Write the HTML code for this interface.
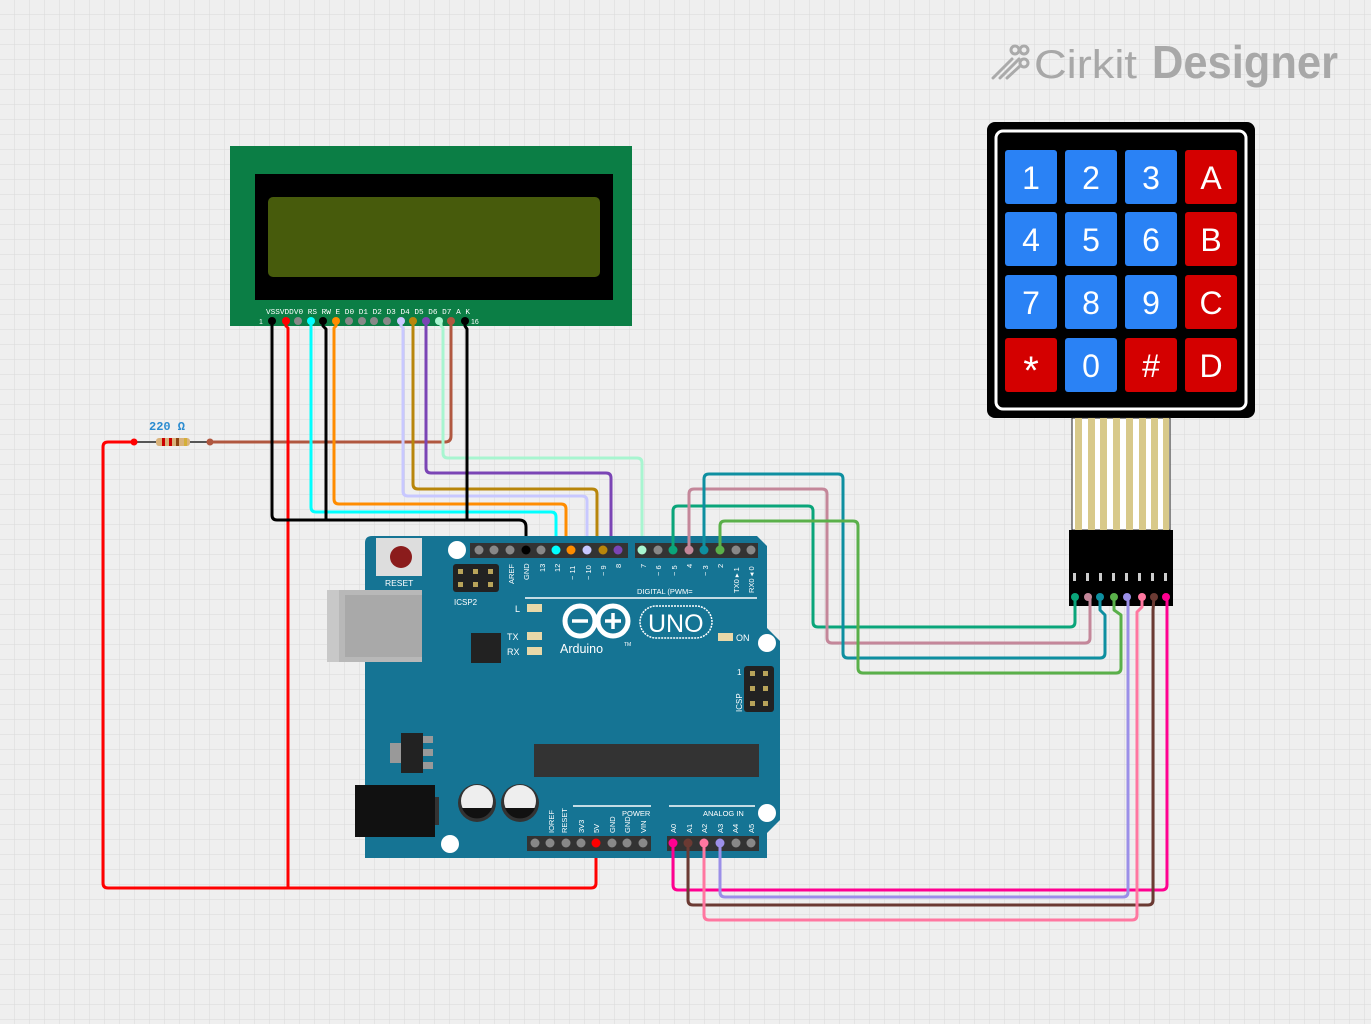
<!DOCTYPE html>
<html><head><meta charset="utf-8"><style>
html,body{margin:0;padding:0;background:#efefef}
svg{display:block}
text{font-family:"Liberation Sans",sans-serif}
text.mono{font-family:"Liberation Mono",monospace}
</style></head><body>
<svg width="1371" height="1024" viewBox="0 0 1371 1024" xmlns="http://www.w3.org/2000/svg">
<defs>
<pattern id="g" width="15" height="15" patternUnits="userSpaceOnUse">
<path d="M15 0V15M0 15H15" stroke="#dadada" stroke-width="1" fill="none"/>
</pattern>
</defs>
<rect width="1371" height="1024" fill="#efefef"/>
<rect width="1371" height="1024" fill="url(#g)"/>

<!-- logo -->
<g stroke="#aaa" stroke-width="3" fill="none" stroke-linecap="round">
<path d="M993 78L1012 59M1000 78L1019 59M1007 78L1020 66"/>
<circle cx="1015" cy="50" r="4"/><circle cx="1024" cy="50" r="4"/><circle cx="1024" cy="63" r="4"/>
</g>
<text x="1034" y="78" font-size="40" fill="#a8a8a8" textLength="103" lengthAdjust="spacingAndGlyphs">Cirkit</text>
<text x="1152" y="78" font-size="46" font-weight="bold" fill="#a8a8a8" textLength="186" lengthAdjust="spacingAndGlyphs">Designer</text>

<!-- LCD -->
<rect x="230" y="146" width="402" height="180" fill="#0b7e45"/>
<rect x="255" y="174" width="358" height="126" fill="#000"/>
<rect x="268" y="197" width="332" height="80" rx="5" fill="#475b0c"/>
<g font-size="7" fill="#fff">
<text class="mono" x="266" y="314" textLength="204" lengthAdjust="spacingAndGlyphs">VSSVDDV0 RS RW  E D0 D1 D2 D3 D4 D5 D6 D7  A  K</text>
<text x="259" y="324">1</text><text x="471" y="324">16</text>
</g>
<g fill="#888">
<circle cx="298" cy="321" r="4"/><circle cx="349" cy="321" r="4"/><circle cx="362" cy="321" r="4"/><circle cx="374" cy="321" r="4"/><circle cx="387" cy="321" r="4"/>
</g>

<!-- wires LCD -> arduino -->
<g fill="none" stroke-width="3" stroke-linejoin="round">
<path d="M451 321V436Q451 442 445 442H210" stroke="#b0573f"/>
<path d="M134 442H108Q103 442 103 447V883Q103 888 108 888H591Q596 888 596 883V843" stroke="#f00"/>
<path d="M286 321V326L288 328V888" stroke="#f00"/>
<path d="M441 321V326L443 328V453Q443 458 448 458H637Q642 458 642 463V550" stroke="#a8f5d0"/>
<path d="M426 321V468Q426 473 431 473H606Q611 473 611 478V545L618 550" stroke="#7b45b5"/>
<path d="M413 321V484Q413 489 418 489H592Q597 489 597 494V545L603 550" stroke="#b8860b"/>
<path d="M401 321V326L403 328V491Q403 496 408 496H582Q587 496 587 501V550" stroke="#c8c8ff"/>
<path d="M336 321V326L334 328V499Q334 504 339 504H561Q566 504 566 509V545L571 550" stroke="#ff8c00"/>
<path d="M311 321V507Q311 512 316 512H551Q556 512 556 517V550" stroke="#0ff"/>
<path d="M272 321V515Q272 520 277 520H519Q526 520 526 527V550" stroke="#000"/>
<path d="M323 321V326L326 329V520" stroke="#000"/>
<path d="M465 321V326L467 329V520" stroke="#000"/>
</g>
<g>
<circle cx="272" cy="321" r="4" fill="#000"/><circle cx="286" cy="321" r="4" fill="#f00"/>
<circle cx="311" cy="321" r="4" fill="#0ff"/><circle cx="323" cy="321" r="4" fill="#000"/>
<circle cx="336" cy="321" r="4" fill="#ff8c00"/><circle cx="401" cy="321" r="4" fill="#c8c8ff"/>
<circle cx="413" cy="321" r="4" fill="#b8860b"/><circle cx="426" cy="321" r="4" fill="#7b45b5"/>
<circle cx="439" cy="321" r="4" fill="#a8f5d0"/><circle cx="451" cy="321" r="4" fill="#b0573f"/>
<circle cx="465" cy="321" r="4" fill="#000"/>
</g>

<!-- resistor -->
<text class="mono" x="149" y="430" font-size="12" font-weight="bold" fill="#2a8bd0">220 Ω</text>
<path d="M134 442H210" stroke="#555" stroke-width="2"/>
<rect x="156" y="438" width="34" height="8" rx="3" fill="#d9b27a"/>
<rect x="162" y="438" width="3" height="8" fill="#c00"/><rect x="169" y="438" width="3" height="8" fill="#c00"/><rect x="176" y="438" width="3" height="8" fill="#8b4513"/><rect x="184" y="438" width="3" height="8" fill="#d4af37"/>
<circle cx="134" cy="442" r="3.5" fill="#f00"/><circle cx="210" cy="442" r="3.5" fill="#b0573f"/>

<!-- Arduino -->
<path d="M372 536H757L767 546V628L780 641V820L767 833V858H365V543Q365 536 372 536Z" fill="#157494"/>
<rect x="327" y="590" width="95" height="72" fill="#b8b8b8"/>
<rect x="345" y="595" width="77" height="62" fill="#a9a9a9"/>
<rect x="327" y="590" width="12" height="72" fill="#c8c8c8"/>
<rect x="376" y="538" width="46" height="38" fill="#ddd"/>
<circle cx="401" cy="557" r="11" fill="#8b1c1c"/>
<text x="385" y="586" font-size="8.5" fill="#fff">RESET</text>
<circle cx="457" cy="550" r="9" fill="#fff"/>
<rect x="453" y="564" width="46" height="28" rx="3" fill="#222"/>
<g fill="#b9a45a"><rect x="458" y="569" width="5" height="5"/><rect x="473" y="569" width="5" height="5"/><rect x="488" y="569" width="5" height="5"/><rect x="458" y="582" width="5" height="5"/><rect x="473" y="582" width="5" height="5"/><rect x="488" y="582" width="5" height="5"/></g>
<text x="454" y="605" font-size="8" fill="#fff">ICSP2</text>

<rect x="470" y="543" width="158" height="15" fill="#333"/>
<rect x="635" y="543" width="123" height="15" fill="#333"/>
<g fill="#888">
<circle cx="479" cy="550" r="4.5"/><circle cx="494" cy="550" r="4.5"/><circle cx="510" cy="550" r="4.5"/><circle cx="541" cy="550" r="4.5"/>
<circle cx="658" cy="550" r="4.5"/><circle cx="736" cy="550" r="4.5"/><circle cx="751" cy="550" r="4.5"/>
</g>
<g font-size="7.5" fill="#fff">
<text transform="translate(514,584) rotate(-90)">AREF</text>
<text transform="translate(529,580) rotate(-90)">GND</text>
<text transform="translate(545,572) rotate(-90)">13</text>
<text transform="translate(560,572) rotate(-90)">12</text>
<text transform="translate(575,580) rotate(-90)">~ 11</text>
<text transform="translate(591,580) rotate(-90)">~ 10</text>
<text transform="translate(606,576) rotate(-90)">~ 9</text>
<text transform="translate(621,568) rotate(-90)">8</text>
<text transform="translate(646,568) rotate(-90)">7</text>
<text transform="translate(661,576) rotate(-90)">~ 6</text>
<text transform="translate(677,576) rotate(-90)">~ 5</text>
<text transform="translate(692,568) rotate(-90)">4</text>
<text transform="translate(708,576) rotate(-90)">~ 3</text>
<text transform="translate(723,568) rotate(-90)">2</text>
<text transform="translate(739,593) rotate(-90)">TX0 ▸ 1</text>
<text transform="translate(754,593) rotate(-90)">RX0 ◂ 0</text>
<text x="637" y="594">DIGITAL (PWM=</text>
</g>
<path d="M525 598H757" stroke="#fff" stroke-width="1.5"/>
<g fill="#e8d8a8"><rect x="527" y="604" width="15" height="8"/><rect x="527" y="632" width="15" height="8"/><rect x="527" y="647" width="15" height="8"/><rect x="718" y="633" width="15" height="8"/></g>
<g font-size="9" fill="#fff"><text x="515" y="612">L</text><text x="507" y="640">TX</text><text x="507" y="655">RX</text><text x="736" y="641">ON</text></g>
<rect x="471" y="633" width="30" height="30" fill="#222"/>
<g fill="none" stroke="#fff" stroke-width="5"><circle cx="580" cy="621" r="15"/><circle cx="613" cy="621" r="15"/></g>
<path d="M572 621H588M605 621H621M613 613V629" stroke="#fff" stroke-width="3.5"/>
<rect x="640" y="606" width="72" height="32" rx="16" fill="none" stroke="#fff" stroke-width="1.5" stroke-dasharray="2 1"/>
<text x="648" y="632" font-size="25" fill="#fff">UNO</text>
<text x="560" y="653" font-size="12.5" fill="#fff">Arduino</text>
<text x="624" y="646" font-size="5" fill="#fff">TM</text>
<circle cx="767" cy="643" r="9" fill="#fff"/>
<rect x="744" y="666" width="30" height="46" rx="3" fill="#222"/>
<g fill="#b9a45a"><rect x="750" y="671" width="5" height="5"/><rect x="763" y="671" width="5" height="5"/><rect x="750" y="686" width="5" height="5"/><rect x="763" y="686" width="5" height="5"/><rect x="750" y="701" width="5" height="5"/><rect x="763" y="701" width="5" height="5"/></g>
<text x="737" y="675" font-size="8" fill="#fff">1</text>
<text transform="translate(742,712) rotate(-90)" font-size="8" fill="#fff">ICSP</text>
<rect x="390" y="743" width="13" height="20" fill="#999"/>
<rect x="401" y="733" width="22" height="40" fill="#222"/>
<g fill="#999"><rect x="423" y="736" width="10" height="7"/><rect x="423" y="749" width="10" height="7"/><rect x="423" y="762" width="10" height="7"/></g>
<rect x="534" y="744" width="225" height="33" fill="#333"/>
<rect x="355" y="785" width="80" height="52" fill="#111"/>
<rect x="435" y="797" width="4" height="28" fill="#333"/>
<g><circle cx="477" cy="803" r="19" fill="#333"/><circle cx="477" cy="801" r="16" fill="#eee"/><path d="M462 808H492A16 16 0 0 1 462 808Z" fill="#111"/>
<circle cx="520" cy="803" r="19" fill="#333"/><circle cx="520" cy="801" r="16" fill="#eee"/><path d="M505 808H535A16 16 0 0 1 505 808Z" fill="#111"/></g>
<circle cx="450" cy="844" r="9" fill="#fff"/>
<circle cx="767" cy="813" r="9" fill="#fff"/>
<path d="M573 806H651M669 806H755" stroke="#fff" stroke-width="1.5"/>
<g font-size="7.5" fill="#fff">
<text x="622" y="816">POWER</text><text x="703" y="816">ANALOG IN</text>
<text transform="translate(554,833) rotate(-90)">IOREF</text>
<text transform="translate(567,833) rotate(-90)">RESET</text>
<text transform="translate(584,833) rotate(-90)">3V3</text>
<text transform="translate(599,833) rotate(-90)">5V</text>
<text transform="translate(615,833) rotate(-90)">GND</text>
<text transform="translate(630,833) rotate(-90)">GND</text>
<text transform="translate(646,833) rotate(-90)">VIN</text>
<text transform="translate(676,833) rotate(-90)">A0</text>
<text transform="translate(692,833) rotate(-90)">A1</text>
<text transform="translate(707,833) rotate(-90)">A2</text>
<text transform="translate(723,833) rotate(-90)">A3</text>
<text transform="translate(738,833) rotate(-90)">A4</text>
<text transform="translate(754,833) rotate(-90)">A5</text>
</g>
<rect x="527" y="836" width="124" height="15" fill="#333"/>
<rect x="667" y="836" width="92" height="15" fill="#333"/>
<g fill="#888"><circle cx="535" cy="843" r="4.5"/><circle cx="550" cy="843" r="4.5"/><circle cx="566" cy="843" r="4.5"/><circle cx="581" cy="843" r="4.5"/><circle cx="612" cy="843" r="4.5"/><circle cx="627" cy="843" r="4.5"/><circle cx="643" cy="843" r="4.5"/><circle cx="736" cy="843" r="4.5"/><circle cx="751" cy="843" r="4.5"/></g>

<!-- keypad -->
<rect x="987" y="122" width="268" height="296" rx="8" fill="#000"/>
<rect x="996" y="131" width="250" height="278" rx="7" fill="none" stroke="#fff" stroke-width="3"/>
<g font-size="32" fill="#fff" text-anchor="middle">
<rect x="1005" y="150" width="52" height="54" rx="3" fill="#2a82f5"/><text x="1031" y="189">1</text>
<rect x="1065" y="150" width="52" height="54" rx="3" fill="#2a82f5"/><text x="1091" y="189">2</text>
<rect x="1125" y="150" width="52" height="54" rx="3" fill="#2a82f5"/><text x="1151" y="189">3</text>
<rect x="1185" y="150" width="52" height="54" rx="3" fill="#d40000"/><text x="1211" y="189">A</text>
<rect x="1005" y="212" width="52" height="54" rx="3" fill="#2a82f5"/><text x="1031" y="251">4</text>
<rect x="1065" y="212" width="52" height="54" rx="3" fill="#2a82f5"/><text x="1091" y="251">5</text>
<rect x="1125" y="212" width="52" height="54" rx="3" fill="#2a82f5"/><text x="1151" y="251">6</text>
<rect x="1185" y="212" width="52" height="54" rx="3" fill="#d40000"/><text x="1211" y="251">B</text>
<rect x="1005" y="275" width="52" height="54" rx="3" fill="#2a82f5"/><text x="1031" y="314">7</text>
<rect x="1065" y="275" width="52" height="54" rx="3" fill="#2a82f5"/><text x="1091" y="314">8</text>
<rect x="1125" y="275" width="52" height="54" rx="3" fill="#2a82f5"/><text x="1151" y="314">9</text>
<rect x="1185" y="275" width="52" height="54" rx="3" fill="#d40000"/><text x="1211" y="314">C</text>
<rect x="1005" y="338" width="52" height="54" rx="3" fill="#d40000"/><text x="1031" y="384" font-size="40">*</text>
<rect x="1065" y="338" width="52" height="54" rx="3" fill="#2a82f5"/><text x="1091" y="377">0</text>
<rect x="1125" y="338" width="52" height="54" rx="3" fill="#d40000"/><text x="1151" y="377">#</text>
<rect x="1185" y="338" width="52" height="54" rx="3" fill="#d40000"/><text x="1211" y="377">D</text>
</g>
<rect x="1072" y="418" width="98" height="112" fill="#fff" stroke="#222" stroke-width="1"/>
<g fill="#d8c98a">
<rect x="1075" y="418" width="7" height="112"/><rect x="1088" y="418" width="7" height="112"/><rect x="1100" y="418" width="7" height="112"/><rect x="1113" y="418" width="7" height="112"/><rect x="1126" y="418" width="7" height="112"/><rect x="1139" y="418" width="7" height="112"/><rect x="1151" y="418" width="7" height="112"/><rect x="1163" y="418" width="6" height="112"/>
</g>
<rect x="1069" y="530" width="104" height="76" fill="#000"/>
<g fill="#ccc"><rect x="1073" y="573" width="3" height="8"/><rect x="1086" y="573" width="3" height="8"/><rect x="1099" y="573" width="3" height="8"/><rect x="1112" y="573" width="3" height="8"/><rect x="1125" y="573" width="3" height="8"/><rect x="1138" y="573" width="3" height="8"/><rect x="1151" y="573" width="3" height="8"/><rect x="1164" y="573" width="3" height="8"/></g>

<!-- digital -> keypad wires -->
<g fill="none" stroke-width="3" stroke-linejoin="round">
<path d="M673 550V511Q673 506 678 506H808Q813 506 813 511V622Q813 627 818 627H1070Q1075 627 1075 622V597" stroke="#0aa57a"/>
<path d="M689 550V494Q689 489 694 489H822Q827 489 827 494V638Q827 643 832 643H1085Q1090 643 1090 638V597" stroke="#c4879a"/>
<path d="M704 550V479Q704 474 709 474H838Q843 474 843 479V653Q843 658 848 658H1100Q1105 658 1105 653V615L1100 610V597" stroke="#0e8fa0"/>
<path d="M720 550V526Q720 521 725 521H853Q858 521 858 526V668Q858 673 863 673H1116Q1121 673 1121 668V615L1114 610V597" stroke="#5ab04a"/>
<path d="M673 843V885Q673 890 678 890H1162Q1167 890 1167 885V597" stroke="#ff0090"/>
<path d="M720 843V892Q720 897 725 897H1123Q1128 897 1128 892V597" stroke="#9b8fe8"/>
<path d="M688 843V900Q688 905 693 905H1148Q1153 905 1153 900V610L1154 597" stroke="#6b3a33"/>
<path d="M704 843V915Q704 920 709 920H1132Q1137 920 1137 915V612L1142 607V597" stroke="#ff77a0"/>
</g>
<g>
<circle cx="526" cy="550" r="4.5" fill="#000"/><circle cx="556" cy="550" r="4.5" fill="#0ff"/><circle cx="571" cy="550" r="4.5" fill="#ff8c00"/><circle cx="587" cy="550" r="4.5" fill="#c8c8ff"/><circle cx="603" cy="550" r="4.5" fill="#b8860b"/><circle cx="618" cy="550" r="4.5" fill="#7b45b5"/>
<circle cx="642" cy="550" r="4.5" fill="#a8f5d0"/><circle cx="673" cy="550" r="4.5" fill="#0aa57a"/><circle cx="689" cy="550" r="4.5" fill="#c4879a"/><circle cx="704" cy="550" r="4.5" fill="#0e8fa0"/><circle cx="720" cy="550" r="4.5" fill="#5ab04a"/>
<circle cx="596" cy="843" r="4.5" fill="#f00"/><circle cx="673" cy="843" r="4.5" fill="#ff0090"/><circle cx="688" cy="843" r="4.5" fill="#6b3a33"/><circle cx="704" cy="843" r="4.5" fill="#ff77a0"/><circle cx="720" cy="843" r="4.5" fill="#9b8fe8"/>
<circle cx="1075" cy="597" r="4" fill="#0aa57a"/><circle cx="1088" cy="597" r="4" fill="#c4879a"/><circle cx="1100" cy="597" r="4" fill="#0e8fa0"/><circle cx="1114" cy="597" r="4" fill="#5ab04a"/><circle cx="1127" cy="597" r="4" fill="#9b8fe8"/><circle cx="1142" cy="597" r="4" fill="#ff77a0"/><circle cx="1154" cy="597" r="4" fill="#6b3a33"/><circle cx="1166" cy="597" r="4" fill="#ff0090"/>
</g>
</svg>
</body></html>
